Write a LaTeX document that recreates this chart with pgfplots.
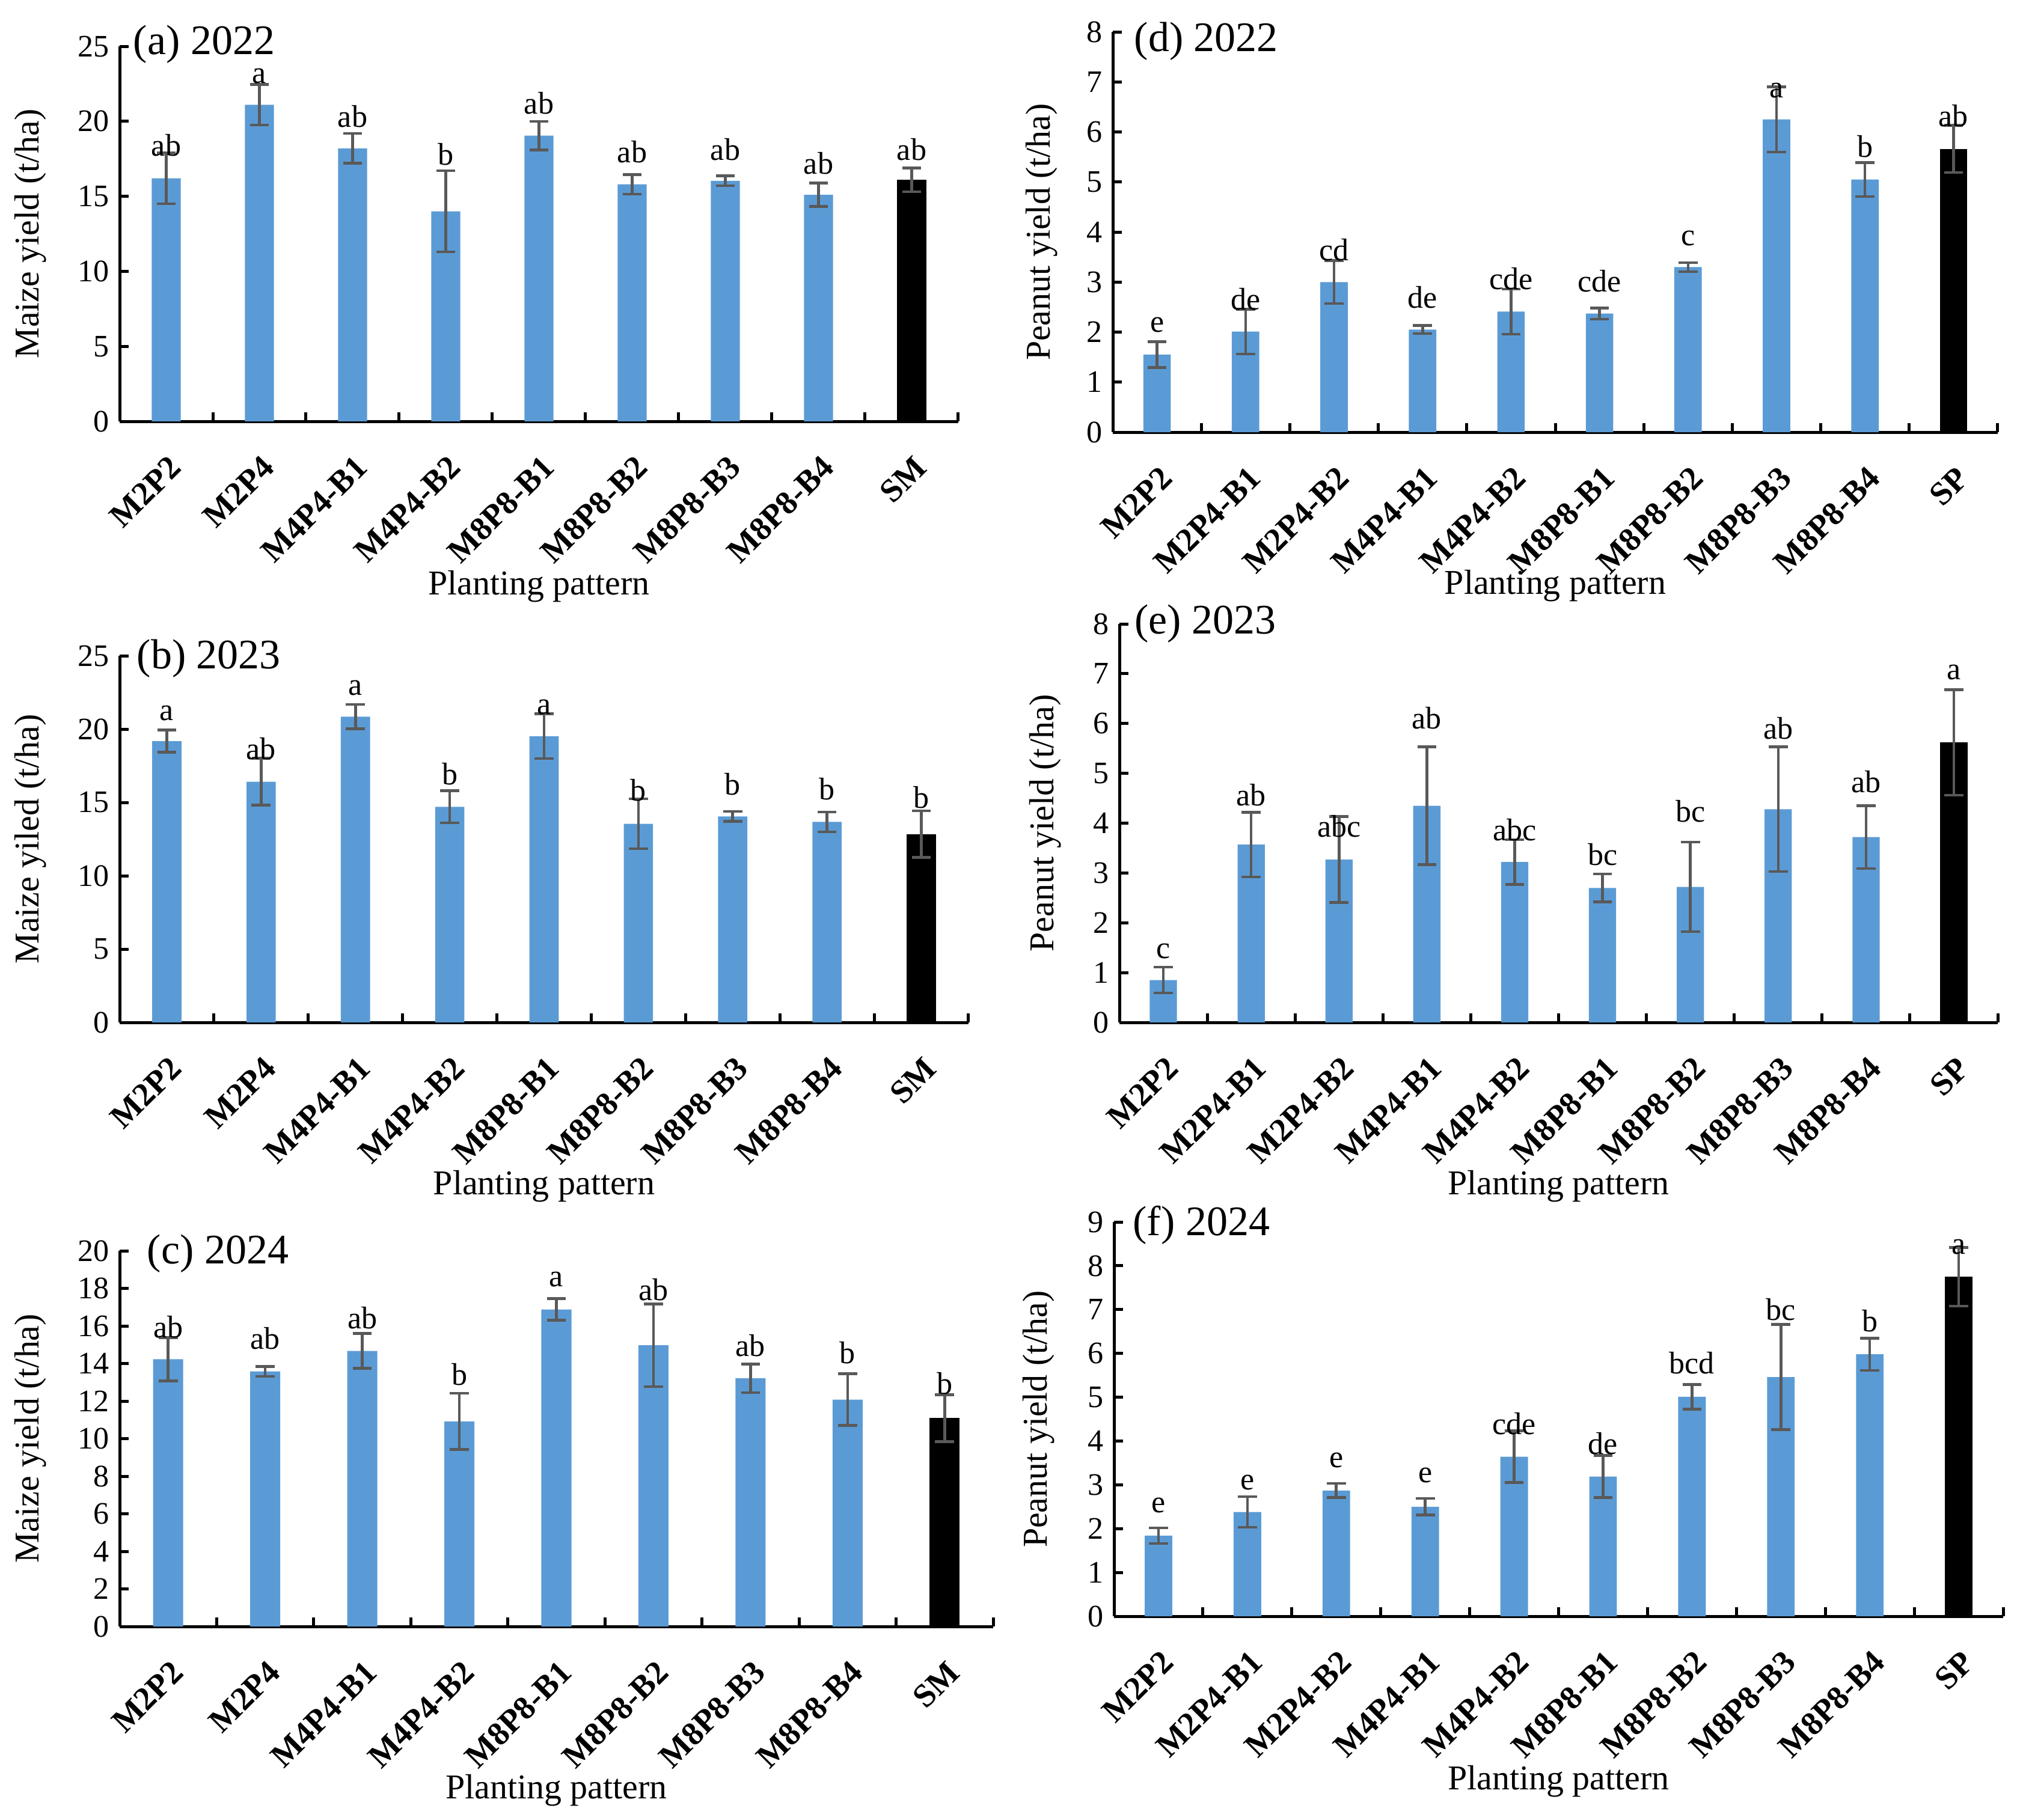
\documentclass[border=0pt]{standalone}
\usepackage{fontspec}
\setmainfont{Liberation Serif}
\usepackage{pgfplots}
\usepackage{pgfplotstable}
\pgfplotsset{compat=1.18}

\definecolor{barblue}{HTML}{5B9BD5}
\definecolor{errgray}{HTML}{595959}
\newcommand\fs[1]{\fontsize{#1}{#1}\selectfont}

% maize, 2022
\pgfplotstableread{
x y e ly lab
0 16.2 1.70 17.7 ab
1 21.1 1.35 22.55 a
2 18.2 1.00 19.6 ab
3 14.0 2.70 17.1 b
4 19.05 0.95 20.5 ab
5 15.8 0.65 17.25 ab
6 16.03 0.33 17.4 ab
7 15.1 0.78 16.5 ab
8 16.1 0.80 17.4 ab
}\ta
% maize, 2023
\pgfplotstableread{
x y e ly lab
0 19.18 0.75 20.6 a
1 16.41 1.60 17.95 ab
2 20.85 0.83 22.3 a
3 14.7 1.10 16.2 b
4 19.52 1.53 21.0 a
5 13.54 1.70 15.1 b
6 14.04 0.34 15.5 b
7 13.67 0.68 15.2 b
8 12.84 1.58 14.6 b
}\tb
% maize, 2024
\pgfplotstableread{
x y e ly lab
0 14.23 1.15 15.37 ab
1 13.58 0.27 14.78 ab
2 14.67 0.93 15.85 ab
3 10.92 1.50 12.85 b
4 16.88 0.57 18.1 a
5 14.97 2.20 17.36 ab
6 13.21 0.76 14.38 ab
7 12.08 1.37 14.0 b
8 11.09 1.25 12.37 b
}\tc
% peanut, 2022
\pgfplotstableread{
x y e ly lab
0 1.55 0.26 2.0 e
1 2.01 0.45 2.44 de
2 3.00 0.43 3.43 cd
3 2.05 0.08 2.48 de
4 2.41 0.45 2.85 cde
5 2.37 0.11 2.81 cde
6 3.30 0.09 3.73 c
7 6.25 0.65 6.68 a
8 5.05 0.34 5.49 b
9 5.66 0.47 6.11 ab
}\td
% peanut, 2023
\pgfplotstableread{
x y e ly lab
0 0.85 0.26 1.29 c
1 3.57 0.65 4.35 ab
2 3.27 0.86 3.72 abc
3 4.35 1.18 5.9 ab
4 3.22 0.45 3.65 abc
5 2.70 0.28 3.15 bc
6 2.72 0.90 4.02 bc
7 4.28 1.25 5.69 ab
8 3.72 0.63 4.62 ab
9 5.62 1.06 6.88 a
}\te
% peanut, 2024
\pgfplotstableread{
x y e ly lab
0 1.84 0.18 2.37 e
1 2.38 0.35 2.89 e
2 2.87 0.16 3.39 e
3 2.50 0.19 3.05 e
4 3.64 0.59 4.15 cde
5 3.19 0.48 3.70 de
6 5.01 0.28 5.54 bcd
7 5.46 1.20 6.76 bc
8 5.98 0.37 6.5 b
9 7.75 0.67 8.26 a
}\tf

\pgfplotsset{
  panel/.style={
    scale only axis, anchor=south west, clip=false,
    axis x line=bottom, axis y line=left,
    axis line style={-, line width=1.2pt},
    tick align=inside,
    major tick length=3.6pt, minor tick length=3.6pt,
    every tick/.style={black, line width=1.2pt},
    major x tick style={draw=none},
    xmin=-0.5, ymin=0,
    xtick={0,...,9},
    minor xtick={-0.5,0.5,...,9.5},
    /pgf/number format/assume math mode=true,
    yticklabel style={font=\fs{12.5}, anchor=east, inner sep=0pt, xshift=-4pt},
    xticklabel style={font=\bfseries\fs{13.2}, inner sep=0pt,
      xshift=0.5pt, yshift=-12.8pt, rotate=45, anchor=north east},
    xlabel={Planting pattern},
    xlabel style={font=\fs{13.9}, anchor=center},
    ylabel style={font=\fs{13.9}, anchor=south, inner sep=0pt},
  },
  maize/.style={panel, xmax=8.5,
    xticklabels={M2P2,M2P4,M4P4-B1,M4P4-B2,M8P8-B1,M8P8-B2,M8P8-B3,M8P8-B4,SM}},
  peanut/.style={panel, xmax=9.5, ymax=8, ytick={0,...,9},
    ylabel={Peanut yield (t/ha)},
    xticklabels={M2P2,M2P4-B1,M2P4-B2,M4P4-B1,M4P4-B2,M8P8-B1,M8P8-B2,M8P8-B3,M8P8-B4,SP}},
  bars/.style={ybar, bar width=0.31, bar shift=0pt, draw=none,
    error bars/y dir=both, error bars/y explicit,
    error bars/error bar style={errgray, line width=1.1pt},
    error bars/error mark options={rotate=90, errgray, mark size=3.8pt, line width=1.1pt}},
  letters/.style={draw=none, nodes near coords, point meta=explicit symbolic,
    nodes near coords style={anchor=base, inner sep=0pt, font=\fs{12.5}, text=black}},
}

\begin{document}
\begin{tikzpicture}
\useasboundingbox (0,0) rectangle (806.4pt,-726.5pt);

% (a)
\begin{axis}[maize, at={(47.76pt,-168.24pt)}, width=334.8pt, height=149.76pt,
  ymax=25, ytick={0,5,...,25}, ylabel={Maize yield (t/ha)},
  ylabel style={at={([xshift=-29pt]axis description cs:0,0.5)}},
  xlabel style={at={([yshift=-65.8pt]axis description cs:0.5,0)}}]
\addplot[bars, fill=barblue, restrict x to domain=0:7] table[x=x, y=y, y error=e] {\ta};
\addplot[bars, fill=black, restrict x to domain=8:8] table[x=x, y=y, y error=e] {\ta};
\addplot[letters] table[x=x, y=ly, meta=lab] {\ta};
\node[anchor=west, inner sep=0pt, font=\fs{16.8}] at ([xshift=5.3pt, yshift=0.7pt]axis description cs:0,1) {(a) 2022};
\end{axis}

% (b)
\begin{axis}[maize, at={(47.76pt,-408.24pt)}, width=338.88pt, height=146.4pt,
  ymax=25, ytick={0,5,...,25}, ylabel={Maize yiled (t/ha)},
  ylabel style={at={([xshift=-29pt]axis description cs:0,0.5)}},
  xlabel style={at={([yshift=-65.5pt]axis description cs:0.5,0)}}]
\addplot[bars, fill=barblue, restrict x to domain=0:7] table[x=x, y=y, y error=e] {\tb};
\addplot[bars, fill=black, restrict x to domain=8:8] table[x=x, y=y, y error=e] {\tb};
\addplot[letters] table[x=x, y=ly, meta=lab] {\tb};
\node[anchor=west, inner sep=0pt, font=\fs{16.8}] at ([xshift=6.7pt, yshift=-1pt]axis description cs:0,1) {(b) 2023};
\end{axis}

% (c)
\begin{axis}[maize, at={(47.76pt,-649.44pt)}, width=348.72pt, height=150pt,
  ymax=20, ytick={0,2,...,20}, ylabel={Maize yield (t/ha)},
  ylabel style={at={([xshift=-29pt]axis description cs:0,0.5)}},
  xlabel style={at={([yshift=-65.5pt]axis description cs:0.5,0)}}]
\addplot[bars, fill=barblue, restrict x to domain=0:7] table[x=x, y=y, y error=e] {\tc};
\addplot[bars, fill=black, restrict x to domain=8:8] table[x=x, y=y, y error=e] {\tc};
\addplot[letters] table[x=x, y=ly, meta=lab] {\tc};
\node[anchor=west, inner sep=0pt, font=\fs{16.8}] at ([xshift=10.8pt, yshift=-1pt]axis description cs:0,1) {(c) 2024};
\end{axis}

% (d)
\begin{axis}[peanut, at={(444.24pt,-172.56pt)}, width=353.28pt, height=159.84pt,
  ylabel style={at={([xshift=-21.8pt]axis description cs:0,0.5)}},
  xlabel style={at={([yshift=-61.4pt]axis description cs:0.5,0)}}]
\addplot[bars, fill=barblue, restrict x to domain=0:8] table[x=x, y=y, y error=e] {\td};
\addplot[bars, fill=black, restrict x to domain=9:9] table[x=x, y=y, y error=e] {\td};
\addplot[letters] table[x=x, y=ly, meta=lab] {\td};
\node[anchor=west, inner sep=0pt, font=\fs{16.8}] at ([xshift=8.4pt, yshift=-3.8pt]axis description cs:0,1) {(d) 2022};
\end{axis}

% (e)
\begin{axis}[peanut, at={(446.88pt,-408.24pt)}, width=350.64pt, height=159.12pt,
  ylabel style={at={([xshift=-23pt]axis description cs:0,0.5)}},
  xlabel style={at={([yshift=-65.5pt]axis description cs:0.5,0)}}]
\addplot[bars, fill=barblue, restrict x to domain=0:8] table[x=x, y=y, y error=e] {\te};
\addplot[bars, fill=black, restrict x to domain=9:9] table[x=x, y=y, y error=e] {\te};
\addplot[letters] table[x=x, y=ly, meta=lab] {\te};
\node[anchor=west, inner sep=0pt, font=\fs{16.8}] at ([xshift=5.8pt, yshift=0.2pt]axis description cs:0,1) {(e) 2023};
\end{axis}

% (f)
\begin{axis}[peanut, at={(444.72pt,-645.36pt)}, width=354.96pt, height=157.44pt,
  ymax=9,
  ylabel style={at={([xshift=-23.5pt]axis description cs:0,0.5)}},
  xlabel style={at={([yshift=-66pt]axis description cs:0.5,0)}}]
\addplot[bars, fill=barblue, restrict x to domain=0:8] table[x=x, y=y, y error=e] {\tf};
\addplot[bars, fill=black, restrict x to domain=9:9] table[x=x, y=y, y error=e] {\tf};
\addplot[letters] table[x=x, y=ly, meta=lab] {\tf};
\node[anchor=west, inner sep=0pt, font=\fs{16.8}] at ([xshift=7.4pt, yshift=-1.2pt]axis description cs:0,1) {(f) 2024};
\end{axis}
\end{tikzpicture}
\end{document}
